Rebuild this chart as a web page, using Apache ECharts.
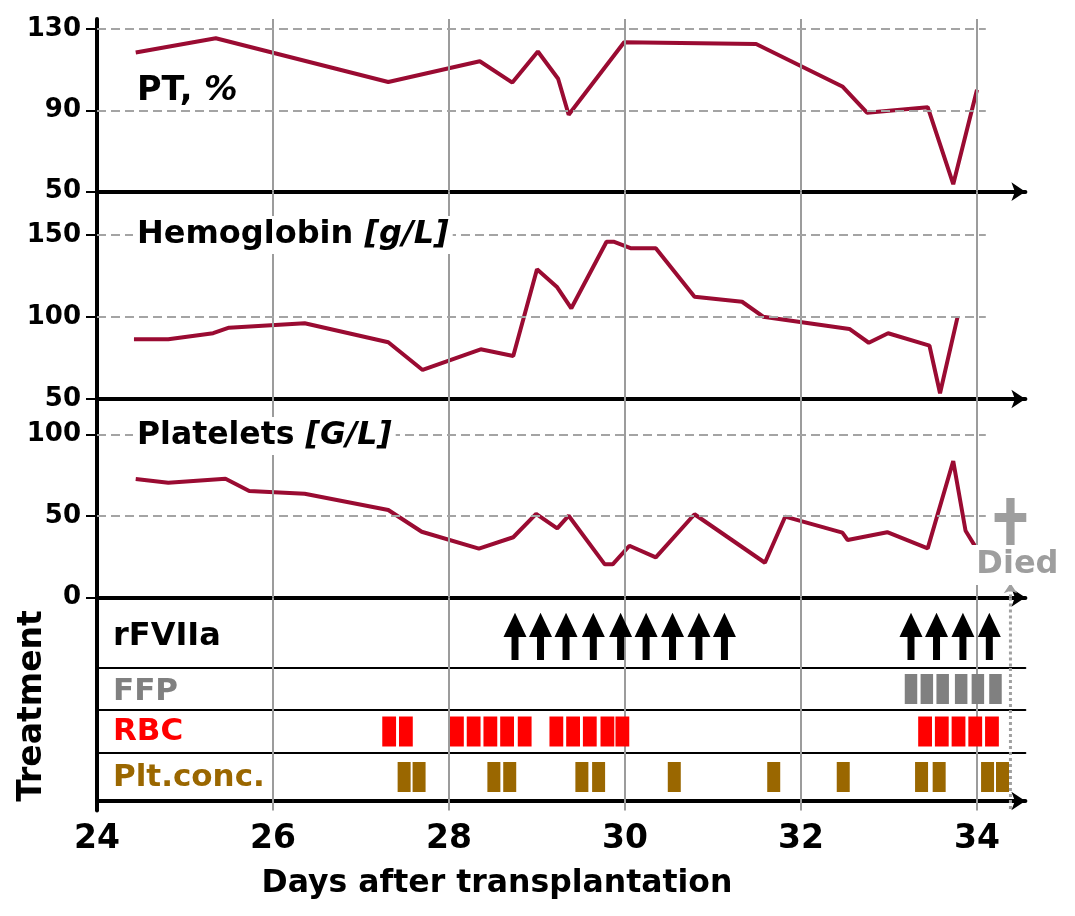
<!DOCTYPE html>
<html><head><meta charset="utf-8">
<script src="https://cdn.jsdelivr.net/npm/echarts@6/dist/echarts.min.js"></script>
<style>html,body{margin:0;padding:0;background:#fff}#c{width:1075px;height:916px}</style>
</head><body><div id="c"></div>
<script>
// ---------------- data ----------------
const ptDays = [24.44, 25.35, 27.31, 28.35, 28.72, 29.01, 29.24, 29.36, 29.99, 31.49, 32.47, 32.75, 33.44, 33.73, 34.0];
const ptVals = [118.5, 125.5, 104, 114.2, 103.7, 119, 105.6, 87.9, 123.6, 122.7, 101.8, 88.9, 91.6, 53.7, 100.2];

const hbDays = [24.42, 24.81, 25.32, 25.5, 26.36, 27.31, 27.7, 28.36, 28.73, 29.0, 29.23, 29.39, 29.79, 29.87, 30.07, 30.35, 30.79, 31.33, 31.57, 32.55, 32.77, 32.99, 33.46, 33.58, 33.78];
const hbVals = [86.4, 86.4, 90.1, 93.5, 96.2, 84.6, 67.7, 80.3, 76.2, 129.1, 118.1, 105.3, 145.9, 145.9, 141.9, 141.9, 112.4, 109.3, 100.2, 92.7, 84.3, 90.1, 82.5, 53.5, 100.2];

const pltDays = [24.44, 24.81, 25.46, 25.73, 26.36, 27.31, 27.69, 28.34, 28.73, 28.99, 29.23, 29.36, 29.77, 29.86, 30.05, 30.35, 30.79, 31.59, 31.82, 32.47, 32.53, 32.98, 33.44, 33.73, 33.87, 34.0];
const pltVals = [72.6, 70.3, 72.8, 65.3, 63.6, 53.6, 40.3, 29.9, 36.9, 51.2, 42.4, 50.1, 20.3, 20.3, 31.7, 24.6, 51.0, 21.3, 49.5, 39.7, 35.2, 40.0, 30.1, 83.6, 40.9, 29.5];

const rfviiaDays = [28.75, 29.04, 29.33, 29.64, 29.95, 30.24, 30.54, 30.84, 31.13, 33.25, 33.54, 33.84, 34.14];
const ffpDays = [33.25, 33.43, 33.61, 33.82, 34.01, 34.21];
const rbcDays = [27.32, 27.51, 28.09, 28.28, 28.47, 28.66, 28.86, 29.22, 29.41, 29.6, 29.8, 29.97, 33.41, 33.6, 33.79, 33.98, 34.17];
const pltConcDays = [27.49, 27.66, 28.51, 28.69, 29.51, 29.7, 30.56, 31.69, 32.48, 33.37, 33.57, 34.12, 34.29];
const deathDay = 34.38;

const xTicks = [24, 26, 28, 30, 32, 34];
const ptTicks = [50, 90, 130];
const hbTicks = [50, 100, 150];
const pltTicks = [0, 50, 100];
const rowLabels = ['rFVIIa', 'FFP', 'RBC', 'Plt.conc.'];
const titles = [['PT, ', '%'], ['Hemoglobin ', '[g/L]'], ['Platelets ', '[G/L]']];
const xName = 'Days after transplantation';
const yName = 'Treatment';
const diedText = 'Died';

// ---------------- layout ----------------
const FONT = '"DejaVu Sans", Verdana, sans-serif';
const LINE = '#9a0b32';
const GRIDC = '#9c9c9c';
const X_MIN = 24, X_MAX = 34.55, DASH_END = 34.1;
const LEFT = 97, RIGHT = 1075 - 1025.4;
const panels = [
  {top: 19, bottom: 191.7, min: 50, max: 135, ticks: ptTicks, thick: true},
  {top: 191.7, bottom: 399, min: 50, max: 176.4, ticks: hbTicks, thick: true},
  {top: 399, bottom: 597.5, min: 0, max: 121.6, ticks: pltTicks, thick: true},
  {top: 597.5, bottom: 668, min: 0, max: 1, ticks: null, thick: false},
  {top: 668, bottom: 710, min: 0, max: 1, ticks: null, thick: false},
  {top: 710, bottom: 753, min: 0, max: 1, ticks: null, thick: false},
  {top: 753, bottom: 810.6, min: -0.2, max: 1, ticks: null, thick: true, last: true}
];
const rowColors = ['#000', '#808080', '#ff0000', '#9a6700'];
const rowLabelY = [636.5, 691.5, 732, 777.5];

const grid = panels.map(p => ({left: LEFT, right: RIGHT, top: p.top, height: p.bottom - p.top}));
const xAxis = panels.map((p, i) => ({
  type: 'value', gridIndex: i, min: X_MIN, max: X_MAX, interval: 2,
  axisLine: {show: true, onZero: !!p.last,
    lineStyle: {color: '#000', width: p.thick ? 4 : 2},
    symbol: p.thick ? ['none', 'arrow'] : ['none', 'none'], symbolSize: [14, 14]},
  axisTick: {show: false},
  axisLabel: p.last ? {show: true, customValues: xTicks.slice(), margin: 12, fontSize: 33,
    fontWeight: 'bold', fontFamily: FONT, color: '#000'} : {show: false},
  splitLine: {show: false}
}));
const yAxis = panels.map((p, i) => ({
  type: 'value', gridIndex: i, min: p.min, max: p.max,
  axisLine: {show: true, onZero: false, lineStyle: {color: '#000', width: 4}},
  axisTick: p.ticks ? {show: true, customValues: p.ticks.slice(), length: 11, lineStyle: {color: '#000', width: 2}} : {show: false},
  axisLabel: p.ticks ? {show: true, customValues: p.ticks.slice(), margin: 16, fontSize: 26,
    fontWeight: 'bold', fontFamily: FONT, color: '#000'} : {show: false},
  splitLine: {show: false}
}));

const gridStyle = {type: 'solid', color: GRIDC, width: 2};
const dashStyle = {type: [9, 5], color: '#a4a4a4', width: 2};
const dotStyle = {type: [3, 3], color: '#a0a0a0', width: 3};

function vLines(y0, y1) {
  return xTicks.slice(1).map(v => [{coord: [v, y0], lineStyle: gridStyle}, {coord: [v, y1]}]);
}
function hDashes(ticks, skip) {
  return ticks.filter(t => t !== skip).map(t => [{coord: [X_MIN, t], lineStyle: dashStyle}, {coord: [DASH_END, t]}]);
}
function markerSeries(i, lines) {
  return {type: 'line', xAxisIndex: i, yAxisIndex: i, data: [], z: 1, silent: true,
    markLine: {silent: true, symbol: ['none', 'none'], label: {show: false}, animation: false, data: lines}};
}
function vLineSeries(i, xs, y0, y1, stroke, width, dash) {
  return {type: 'custom', xAxisIndex: i, yAxisIndex: i, z: 1, silent: true, animation: false, clip: false,
    data: xs.map(v => [v]), encode: {x: 0},
    renderItem: (params, api) => {
      const a = api.coord([api.value(0), y1]), b = api.coord([api.value(0), y0]);
      return {type: 'line', shape: {x1: a[0], y1: a[1], x2: b[0], y2: b[1]},
        style: {stroke: stroke, fill: null, lineWidth: width, lineDash: dash || null}};
    }};
}

const series = [];
series.push(markerSeries(0, vLines(50, 135).concat(hDashes(ptTicks, 50))));
series.push({type: 'line', xAxisIndex: 0, yAxisIndex: 0, z: 3, symbol: 'none', animation: false,
  lineStyle: {color: LINE, width: 4}, data: ptDays.map((d, k) => [d, ptVals[k]])});
series.push(markerSeries(1, vLines(50, 176.4).concat(hDashes(hbTicks, 50))));
series.push({type: 'line', xAxisIndex: 1, yAxisIndex: 1, z: 3, symbol: 'none', animation: false,
  lineStyle: {color: LINE, width: 4}, data: hbDays.map((d, k) => [d, hbVals[k]])});
series.push(markerSeries(2, vLines(0, 121.6).concat(hDashes(pltTicks, 0)).concat([
  [{coord: [deathDay, 0], lineStyle: dotStyle, symbol: 'none'}, {coord: [deathDay, 8.8], symbol: 'arrow', symbolSize: [10, 10]}]
])));
series.push({type: 'line', xAxisIndex: 2, yAxisIndex: 2, z: 3, symbol: 'none', animation: false,
  lineStyle: {color: LINE, width: 4}, data: pltDays.map((d, k) => [d, pltVals[k]]),
  markPoint: {silent: true, animation: false, data: [
    {coord: [deathDay, 45.6], symbol: 'path://M11.7 0 H20 V15 H31.7 V24 H20 V50 H11.7 V24 H0 V15 H11.7 Z',
      symbolSize: [31.7, 50], itemStyle: {color: '#9e9e9e'}, label: {show: false}},
    {coord: [deathDay, 19.9], symbol: 'rect', symbolSize: 1, itemStyle: {color: 'rgba(0,0,0,0)'},
      label: {show: true, position: 'inside', offset: [7, 0], formatter: diedText, fontSize: 32, fontWeight: 'bold',
        fontFamily: FONT, color: '#9e9e9e', backgroundColor: '#fff', padding: [4, 6]}}
  ]}});
// treatment rows: rows 3-4 inside their own grid; row 5 lines carried on down through the last row
const r5 = panels[5], r6 = panels[6];
const row5Bottom = -(r6.bottom - r5.bottom) / (r5.bottom - r5.top);
for (let i = 3; i <= 5; i++) {
  const y0 = i === 5 ? row5Bottom : 0;
  series.push(vLineSeries(i, xTicks.slice(1), y0, 1, GRIDC, 2));
  series.push(vLineSeries(i, [deathDay], y0, 1, '#a0a0a0', 3, [3, 3]));
}
series.push({type: 'custom', xAxisIndex: 3, yAxisIndex: 3, z: 3, silent: true, animation: false,
  data: rfviiaDays.map(d => [d]), encode: {x: 0},
  renderItem: (params, api) => {
    const c = api.coord([api.value(0), 0]);
    const x = c[0], b = c[1];
    return {type: 'polygon', shape: {points: [
      [x - 3.5, b - 8], [x + 3.5, b - 8], [x + 3.5, b - 31], [x + 11.5, b - 31],
      [x, b - 55.3], [x - 11.5, b - 31], [x - 3.5, b - 31]]}, style: {fill: '#000'}};
  }});
function barSeries(idx, days, color, w) {
  return {type: 'custom', xAxisIndex: idx, yAxisIndex: idx, z: 3, silent: true, animation: false,
    data: days.map(d => [d]), encode: {x: 0},
    renderItem: (params, api) => {
      const c = api.coord([api.value(0), 0.5]);
      return {type: 'rect', shape: {x: c[0] - w / 2, y: c[1] - 15, width: w, height: 30}, style: {fill: color}};
    }};
}
series.push(barSeries(4, ffpDays, '#808080', 12.5));
series.push(barSeries(5, rbcDays, '#ff0000', 13.8));
series.push(barSeries(6, pltConcDays, '#9a6700', 13));

const titleY = [91, 235, 436];
const titleSize = [33.5, 32, 31.5];
const graphic = [];
titles.forEach((t, k) => {
  graphic.push({type: 'text', x: 133, y: titleY[k], z: 100, silent: true, style: {
    text: '{a|' + t[0] + '}{b|' + t[1] + '}', verticalAlign: 'middle', align: 'left',
    backgroundColor: k ? '#fff' : null, padding: [0, 4],
    rich: {a: {fontSize: titleSize[k], fontWeight: 'bold', fontFamily: FONT, fill: '#000', lineHeight: 38},
           b: {fontSize: titleSize[k], fontWeight: 'bold', fontStyle: 'italic', fontFamily: FONT, fill: '#000', lineHeight: 38}}}});
});
rowLabels.forEach((t, k) => {
  graphic.push({type: 'text', x: 113, y: rowLabelY[k], z: 100, silent: true, style: {
    text: t, fontSize: k === 0 ? 32 : 31, fontWeight: 'bold', fontFamily: FONT, fill: rowColors[k],
    align: 'left', verticalAlign: 'middle'}});
});
graphic.push({type: 'text', x: 32, y: 706, rotation: Math.PI / 2, z: 100, silent: true, style: {
  text: yName, fontSize: 33, fontWeight: 'bold', fontFamily: FONT, fill: '#000', align: 'center', verticalAlign: 'middle'}});
graphic.push({type: 'text', x: 497, y: 884, z: 100, silent: true, style: {
  text: xName, fontSize: 31.5, fontWeight: 'bold', fontFamily: FONT, fill: '#000', align: 'center', verticalAlign: 'middle'}});

const chart = echarts.init(document.getElementById('c'), null, {renderer: 'canvas'});
chart.setOption({animation: false, backgroundColor: '#fff', grid, xAxis, yAxis, series, graphic});
</script></body></html>
